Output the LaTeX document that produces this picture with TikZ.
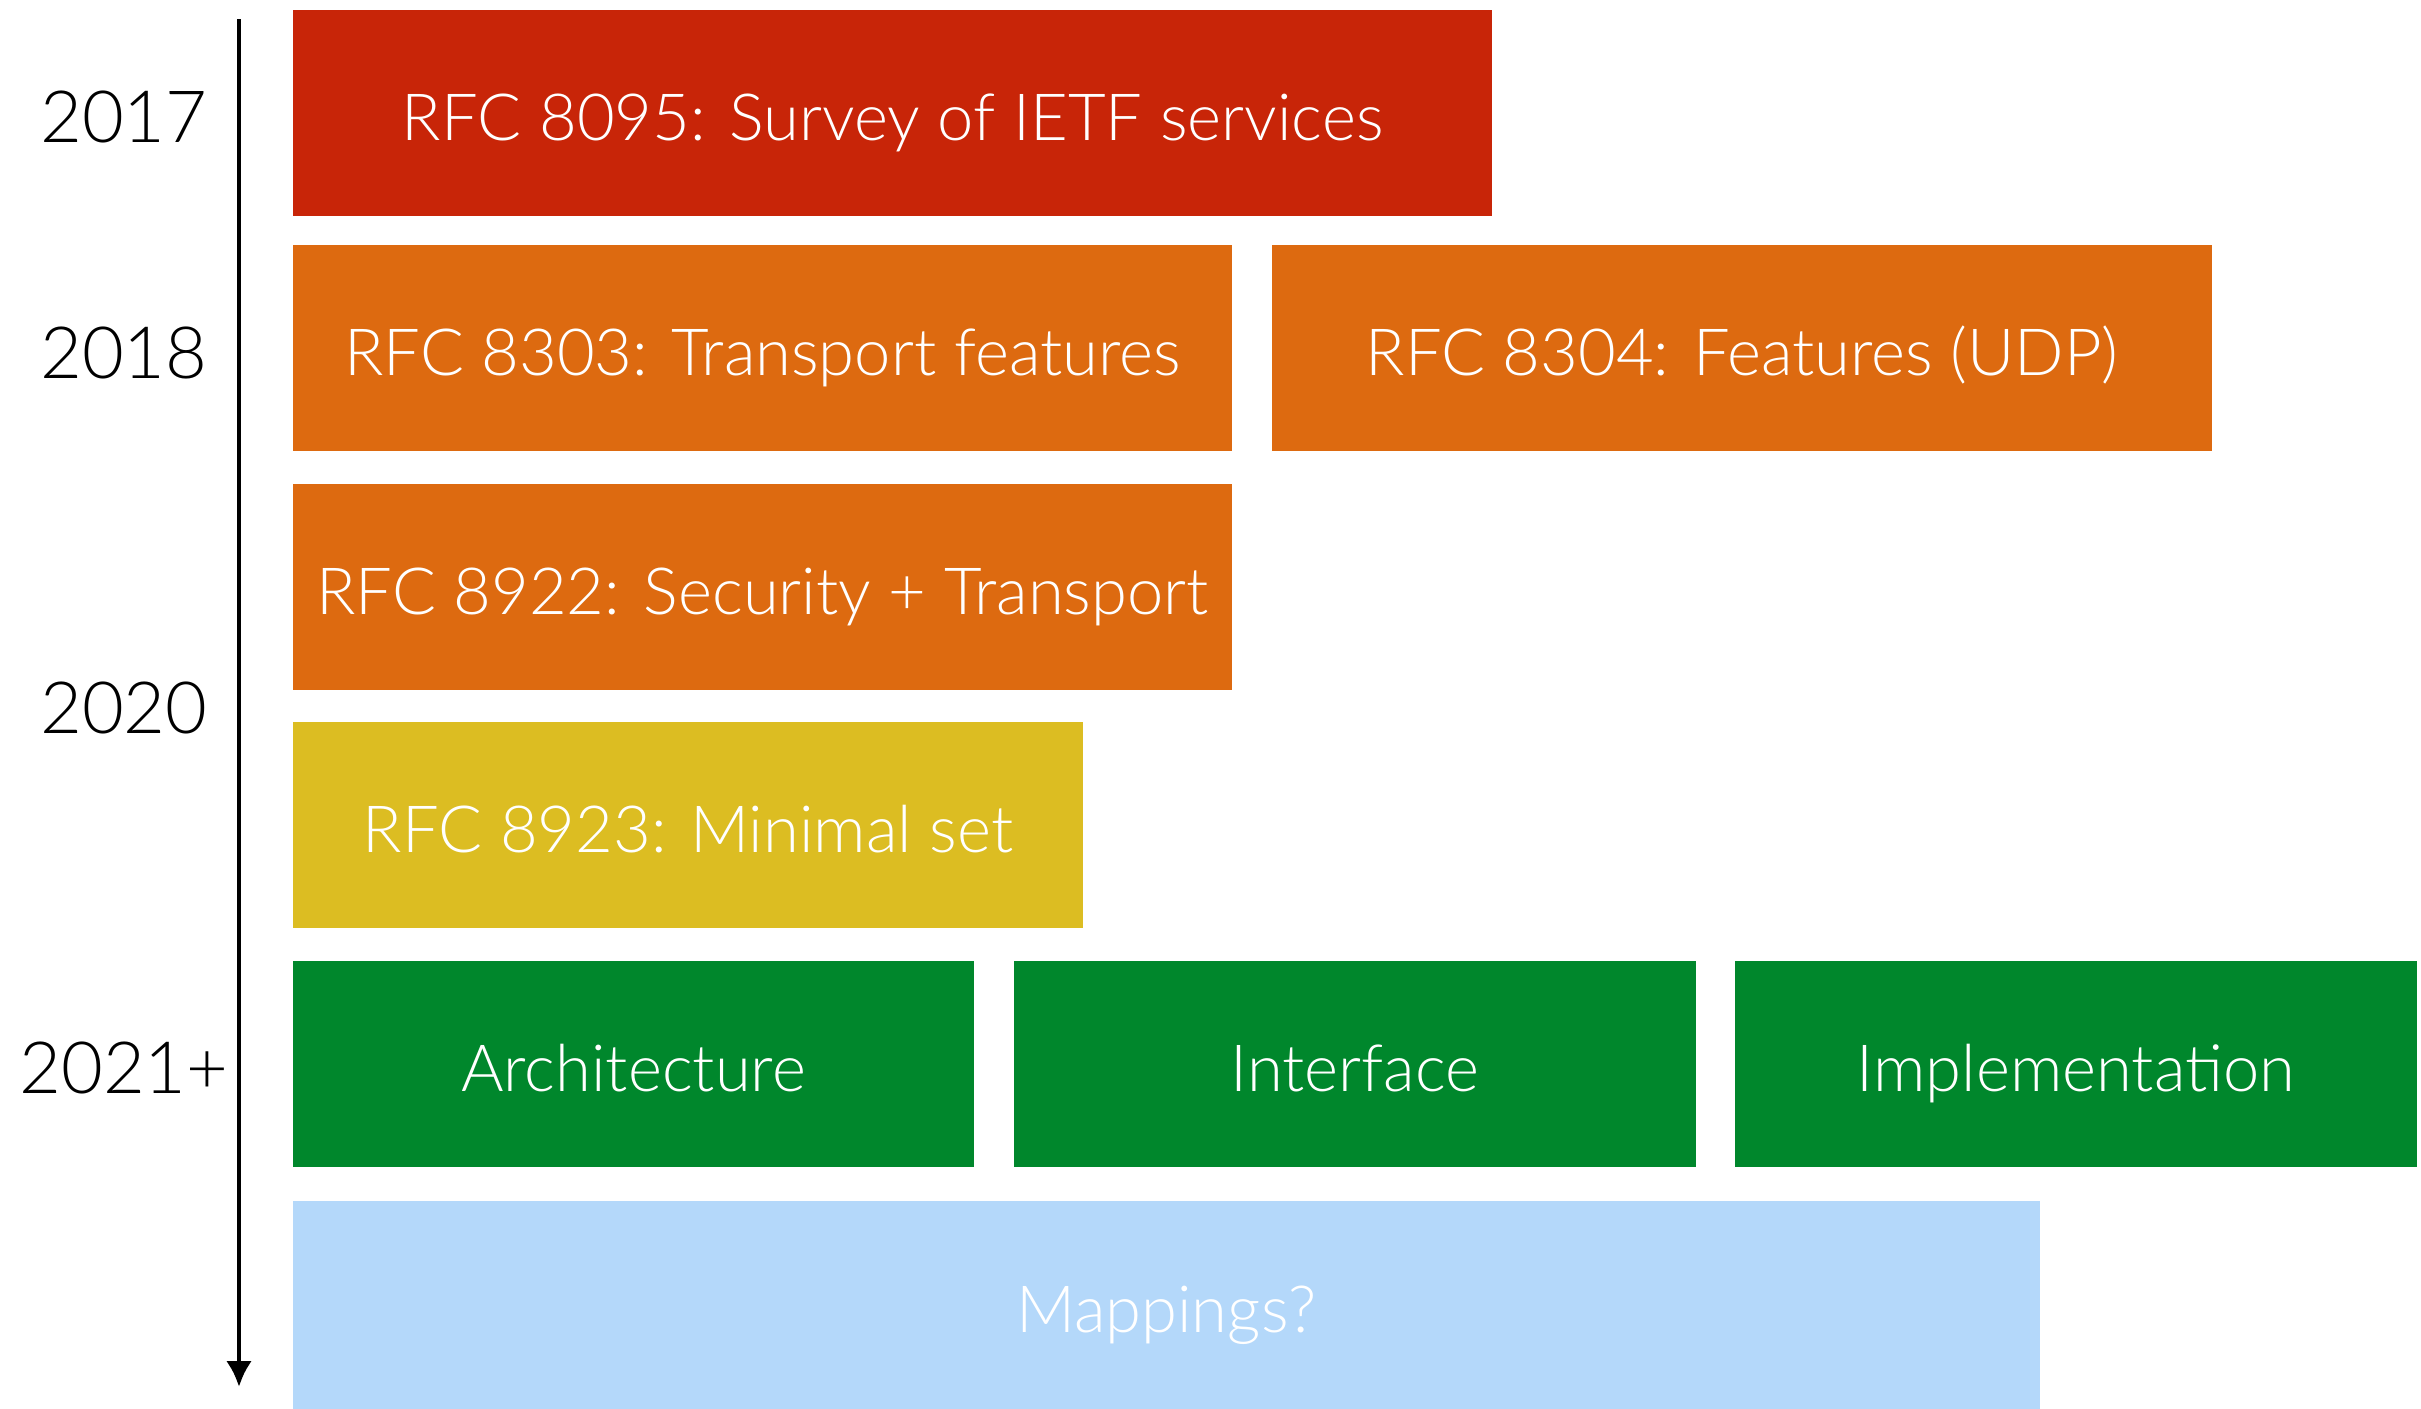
\documentclass[tikz,border=0pt]{standalone}
\usepackage{fontspec}
\setmainfont{Lato Light}
\usetikzlibrary{arrows.meta}
\definecolor{rfcred}{RGB}{200,37,8}
\definecolor{rfcorange}{RGB}{221,106,16}
\definecolor{rfcyellow}{RGB}{220,189,34}
\definecolor{taps}{RGB}{0,135,44}
\definecolor{mapblue}{RGB}{180,216,250}
\tikzset{
  box/.style={fill=#1,draw=none,text=white,anchor=north west,
    minimum height=2.06cm,inner sep=0pt,text height=15.6pt,text depth=0pt,
    font=\fontsize{18.5}{22}\selectfont},
  year/.style={font=\fontsize{20.5}{24}\selectfont,text=black,
    text height=14.8pt,text depth=0pt},
}
\begin{document}
\begin{tikzpicture}[x=0.01cm,y=-0.01cm]
  \useasboundingbox (0,0) rectangle (2421,1408);
  % time line
  \coordinate (tstart) at (239,19);
  \coordinate (tend) at (239,1387);
  \draw[line width=1.4pt,-{Latex[length=0.26cm,width=0.26cm]}] (tstart)--(tend);
  \node[year] (y2017) at (124,116) {2017};
  \node[year] (y2018) at (124,352) {2018};
  \node[year] (y2020) at (124,707) {2020};
  \node[year] (y2021) at (124,1067) {2021+};
  % documents
  \node[box=rfcred,minimum width=11.99cm] (r8095) at (292,9) {RFC 8095: Survey of IETF services};
  \node[box=rfcorange,minimum width=9.39cm] (r8303) at (292,244) {RFC 8303: Transport features};
  \node[box=rfcorange,minimum width=9.40cm] (r8304) at (1271,244) {RFC 8304: Features (UDP)};
  \node[box=rfcorange,minimum width=9.39cm] (r8922) at (292,483) {RFC 8922: Security + Transport};
  \node[box=rfcyellow,minimum width=7.90cm] (r8923) at (292,721) {RFC 8923: Minimal set};
  \node[box=taps,minimum width=6.81cm] (arch) at (292,960) {Architecture};
  \node[box=taps,minimum width=6.82cm] (intf) at (1013,960) {Interface};
  \node[box=taps,minimum width=6.82cm] (impl) at (1734,960) {Implementation};
  \node[box=mapblue,minimum width=17.46cm,minimum height=2.08cm] (maps) at (292,1200) {Mappings?};
\end{tikzpicture}
\end{document}
